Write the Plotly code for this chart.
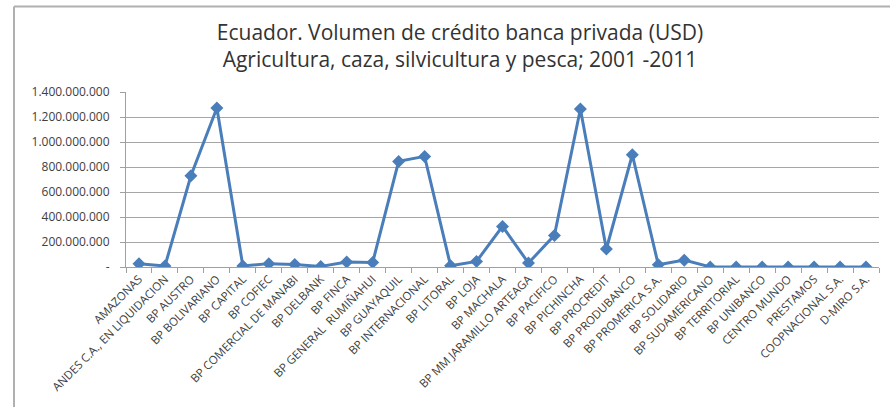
import plotly.graph_objects as go

categories = [
    "AMAZONAS", "ANDES C.A., EN LIQUIDACION", "BP AUSTRO", "BP BOLIVARIANO",
    "BP CAPITAL", "BP COFIEC", "BP COMERCIAL DE MANABI", "BP DELBANK",
    "BP FINCA", "BP GENERAL  RUMIÑAHUI", "BP GUAYAQUIL", "BP INTERNACIONAL",
    "BP LITORAL", "BP LOJA", "BP MACHALA", "BP MM JARAMILLO ARTEAGA",
    "BP PACIFICO", "BP PICHINCHA", "BP PROCREDIT", "BP PRODUBANCO",
    "BP PROMERICA S.A.", "BP SOLIDARIO", "BP SUDAMERICANO", "BP TERRITORIAL",
    "BP UNIBANCO", "CENTRO MUNDO", "PRESTAMOS", "COOPNACIONAL S.A.", "D-MIRO S.A.",
]
volumen_usd = [
    26e6, 8e6, 730e6, 1272e6,
    9e6, 27e6, 20e6, 5e6,
    40e6, 37e6, 845e6, 885e6,
    10e6, 45e6, 325e6, 32e6,
    253e6, 1264e6, 144e6, 898e6,
    18e6, 55e6, 1e6, 0.5e6,
    0.5e6, 0.5e6, 0.5e6, 0.5e6, 0.5e6,
]
y_tickvals = [0, 200e6, 400e6, 600e6, 800e6, 1000e6, 1200e6, 1400e6]
y_ticktext = ["-", "200.000.000", "400.000.000", "600.000.000", "800.000.000",
              "1.000.000.000", "1.200.000.000", "1.400.000.000"]
title_lines = ["Ecuador. Volumen de crédito banca privada (USD)",
               "Agricultura, caza, silvicultura y pesca; 2001 -2011"]

W, H = 890, 407
ML, MR, MT, MB = 126, 11, 92, 140
pw, ph = W - ML - MR, H - MT - MB

fig = go.Figure()
fig.add_trace(go.Scatter(
    x=categories, y=volumen_usd, mode="lines+markers",
    line=dict(color="#4A7EBB", width=3),
    marker=dict(symbol="diamond", size=10, color="#4A7EBB"),
    showlegend=False,
))

fig.update_layout(
    width=W, height=H,
    margin=dict(l=ML, r=MR, t=MT, b=MB),
    paper_bgcolor="white", plot_bgcolor="white",
    font=dict(family="Open Sans", color="#404040"),
    title=dict(text="<br>".join(title_lines), x=(460 - ML) / pw, xref="paper",
               xanchor="center", y=1 - 40 / H, yanchor="top",
               font=dict(family="Open Sans", size=21, color="#333333")),
    xaxis=dict(
        type="category", tickangle=-45, tickson="boundaries",
        ticks="outside", ticklen=5, tickcolor="#a0a0a0",
        showline=True, linecolor="#a0a0a0", linewidth=1,
        showgrid=False, tickfont=dict(size=11.5, color="#404040"),
        range=[-0.5, len(categories) - 0.5],
    ),
    yaxis=dict(
        range=[0, 1400e6], tickvals=y_tickvals, ticktext=y_ticktext,
        ticks="outside", ticklen=5, tickcolor="#a0a0a0",
        showline=True, linecolor="#a0a0a0", linewidth=1,
        showgrid=True, gridcolor="#a6a6a6", gridwidth=1,
        tickfont=dict(size=12, color="#404040"), zeroline=False,
        ticklabelstandoff=8,
    ),
)

# outer chart border (top and left edges visible in the reference)
bx0 = (14 - ML) / pw
by_top = (H - 6.5 - MB) / ph
fig.add_shape(type="line", xref="paper", yref="paper",
              x0=bx0, x1=(W + 5 - ML) / pw, y0=by_top, y1=by_top,
              line=dict(color="#b0b0b0", width=2))
fig.add_shape(type="line", xref="paper", yref="paper",
              x0=bx0, x1=bx0, y0=by_top, y1=(-5 - MB) / ph,
              line=dict(color="#b0b0b0", width=2))

fig.write_html("out.html", config={"displayModeBar": False},
               post_script="document.body.style.margin='0px';document.body.style.overflow='hidden';")
